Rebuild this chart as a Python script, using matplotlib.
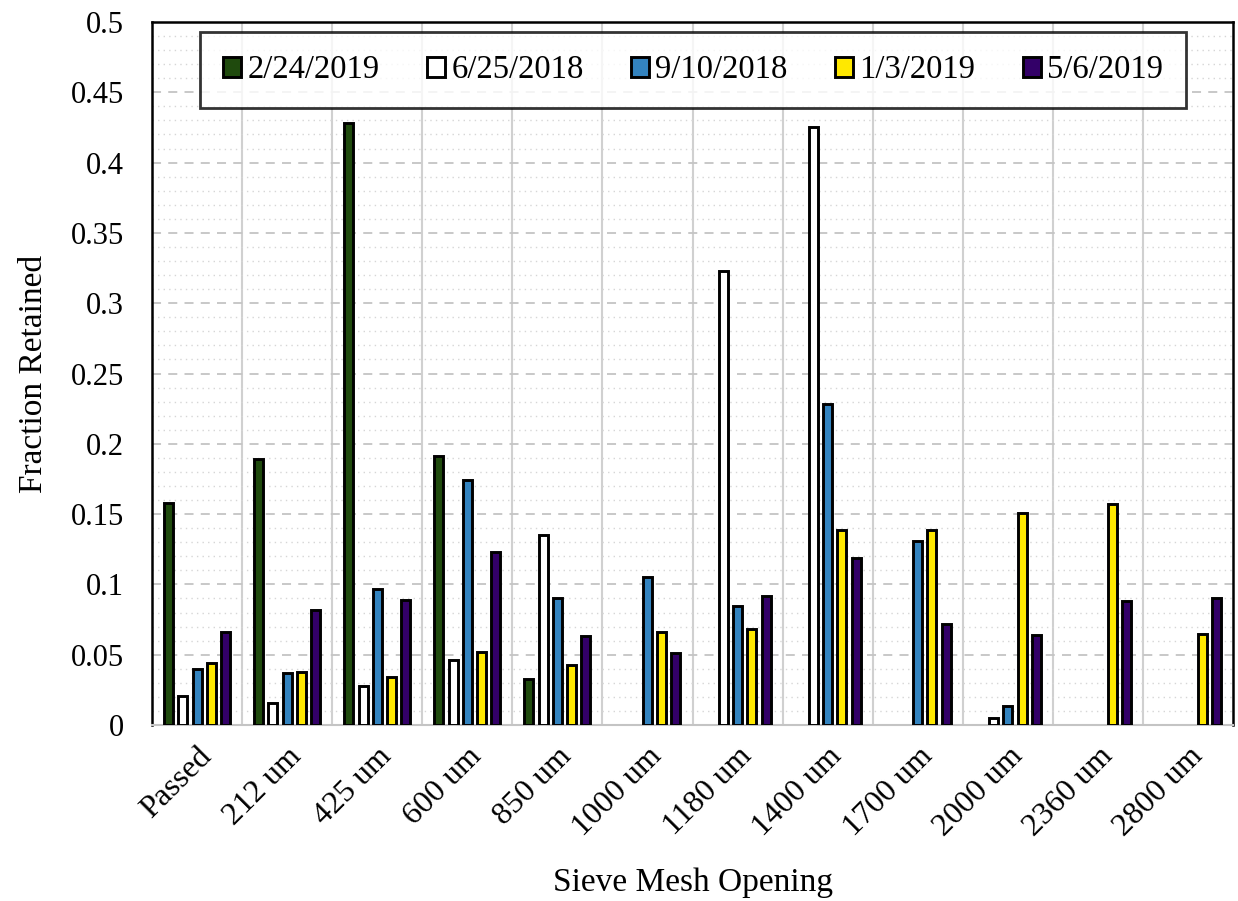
import matplotlib
matplotlib.use("Agg")
import matplotlib.pyplot as plt
import numpy as np
from matplotlib.ticker import MultipleLocator, FuncFormatter

categories = ["Passed", "212 um", "425 um", "600 um", "850 um", "1000 um",
              "1180 um", "1400 um", "1700 um", "2000 um", "2360 um", "2800 um"]
series_names = ["2/24/2019", "6/25/2018", "9/10/2018", "1/3/2019", "5/6/2019"]
s_2_24_2019 = [0.158, 0.189, 0.428, 0.191, 0.033, 0, 0, 0, 0, 0, 0, 0]
s_6_25_2018 = [0.021, 0.016, 0.028, 0.046, 0.135, 0, 0.323, 0.425, 0, 0.005, 0, 0]
s_9_10_2018 = [0.040, 0.037, 0.097, 0.174, 0.090, 0.105, 0.085, 0.228, 0.131, 0.0135, 0, 0]
s_1_3_2019 = [0.044, 0.038, 0.034, 0.052, 0.043, 0.066, 0.068, 0.139, 0.139, 0.151, 0.157, 0.065]
s_5_6_2019 = [0.066, 0.082, 0.089, 0.123, 0.063, 0.051, 0.092, 0.119, 0.072, 0.064, 0.088, 0.090]
series = [s_2_24_2019, s_6_25_2018, s_9_10_2018, s_1_3_2019, s_5_6_2019]
colors = ["#1f4a0d", "#ffffff", "#3383bf", "#ffe800", "#330068"]

plt.rcParams['font.family'] = ['Liberation Serif', 'DejaVu Serif']

fig = plt.figure(figsize=(12.38, 9.01), dpi=100)
ax = fig.add_axes([0.1228, 0.1953, 0.8732, 0.7803])

x = np.arange(len(categories))
step = 0.158
width = 0.10
for i, (vals, c, name) in enumerate(zip(series, colors, series_names)):
    v = np.array(vals, dtype=float)
    v[v == 0] = np.nan  # empty cells are not drawn
    ax.bar(x + (i - 2) * step, v, width=width, color=c, edgecolor="black",
           linewidth=2.1, label=name, zorder=3)

ax.set_xlim(-0.5, len(categories) - 0.5)
ax.set_ylim(0, 0.5)

# vertical category separators
for b in np.arange(0.5, len(categories) - 0.5, 1.0):
    ax.axvline(b, color="#d0d0d0", linewidth=1.5, zorder=1)

ax.yaxis.set_major_locator(MultipleLocator(0.05))
ax.yaxis.set_minor_locator(MultipleLocator(0.01))
ax.grid(which="major", axis="y", color="#c4c4c4", linestyle=(0, (5, 4)), linewidth=1.3, zorder=0)
ax.grid(which="minor", axis="y", color="#d6d6d6", linestyle=(0, (1, 3)), linewidth=1.0, zorder=0)

def fmt(v, pos):
    return f"{v:.2f}".rstrip("0").rstrip(".")
ax.yaxis.set_major_formatter(FuncFormatter(fmt))

ax.set_xticks(x)
ax.set_xticklabels(categories, rotation=45, ha="right", rotation_mode="anchor", fontsize=23)
ax.tick_params(axis="both", which="both", length=0)
ax.tick_params(axis="y", labelsize=22, pad=20)
ax.tick_params(axis="x", pad=12)

for side in ["left", "top", "right"]:
    ax.spines[side].set_color("black")
    ax.spines[side].set_linewidth(1.8)
ax.spines["bottom"].set_color("#c4c4c4")
ax.spines["bottom"].set_linewidth(1.5)

ax.set_ylabel("Fraction Retained", fontsize=24, labelpad=16)
ax.set_xlabel("Sieve Mesh Opening", fontsize=24, labelpad=18)

leg = ax.legend(loc="center", ncol=5, bbox_to_anchor=(0.5005, 0.9317),
                fontsize=23.5, frameon=True, fancybox=False,
                edgecolor="black", handlelength=0.55, handleheight=0.55,
                handletextpad=0.2, borderaxespad=0, borderpad=0.7, columnspacing=1.45)
leg.get_frame().set_linewidth(2.0)
leg.set_zorder(5)

fig.savefig("out.png", dpi=100)
